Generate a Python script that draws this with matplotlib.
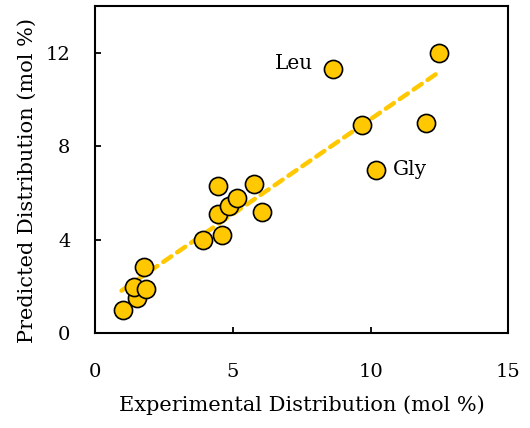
import numpy as np
import matplotlib
matplotlib.use("Agg")
import matplotlib.pyplot as plt

# experimental vs predicted amino-acid distribution (mol %)
exp_vals = [1.0, 1.5, 1.4, 1.85, 1.75, 3.9, 4.6, 4.45, 4.85, 5.15, 4.45, 5.75, 6.05,
            8.65, 9.7, 10.2, 12.0, 12.5]
pred_vals = [1.0, 1.5, 2.0, 1.9, 2.85, 4.0, 4.2, 5.1, 5.45, 5.8, 6.3, 6.4, 5.2,
             11.3, 8.9, 7.0, 9.0, 12.0]

x_ticks = [0, 5, 10, 15]
y_ticks = [0, 4, 8, 12]

gold = "#FFC800"

plt.rcParams["font.family"] = ["DejaVu Serif"]

fig = plt.figure(figsize=(5.30, 4.28), dpi=100)
ax = fig.add_axes([0.180, 0.221, 0.779, 0.765])

# linear trend over the data
x = np.array(exp_vals)
y = np.array(pred_vals)
k, b = np.polyfit(x, y, 1)
xf = np.array([x.min() - 0.05, x.max()])
ax.plot(xf, k * xf + b, color=gold, lw=3.2, ls=(0, (2.2, 1.6)),
        dash_capstyle="round", zorder=1)

ax.scatter(x, y, s=170, color=gold, edgecolor="black", linewidth=1.2, zorder=2)

ax.annotate("Leu", (exp_vals[13], pred_vals[13]), xytext=(-15, 4),
            textcoords="offset points", ha="right", va="center", fontsize=14.5)
ax.annotate("Gly", (exp_vals[15], pred_vals[15]), xytext=(12, 0),
            textcoords="offset points", ha="left", va="center", fontsize=14.5)

ax.set_xlim(0, 15)
ax.set_ylim(0, 14)
ax.set_xticks(x_ticks)
ax.set_yticks(y_ticks)
ax.tick_params(direction="in", length=4, width=1.3, labelsize=14)
ax.tick_params(axis="x", pad=21)
ax.tick_params(axis="y", pad=18)
for s in ax.spines.values():
    s.set_linewidth(1.5)

ax.set_xlabel("Experimental Distribution (mol %)", fontsize=15)
ax.set_ylabel("Predicted Distribution (mol %)", fontsize=15)
ax.xaxis.set_label_coords(0.499, -0.19)
ax.yaxis.set_label_coords(-0.142, 0.468)

fig.savefig("out.png", dpi=100)
